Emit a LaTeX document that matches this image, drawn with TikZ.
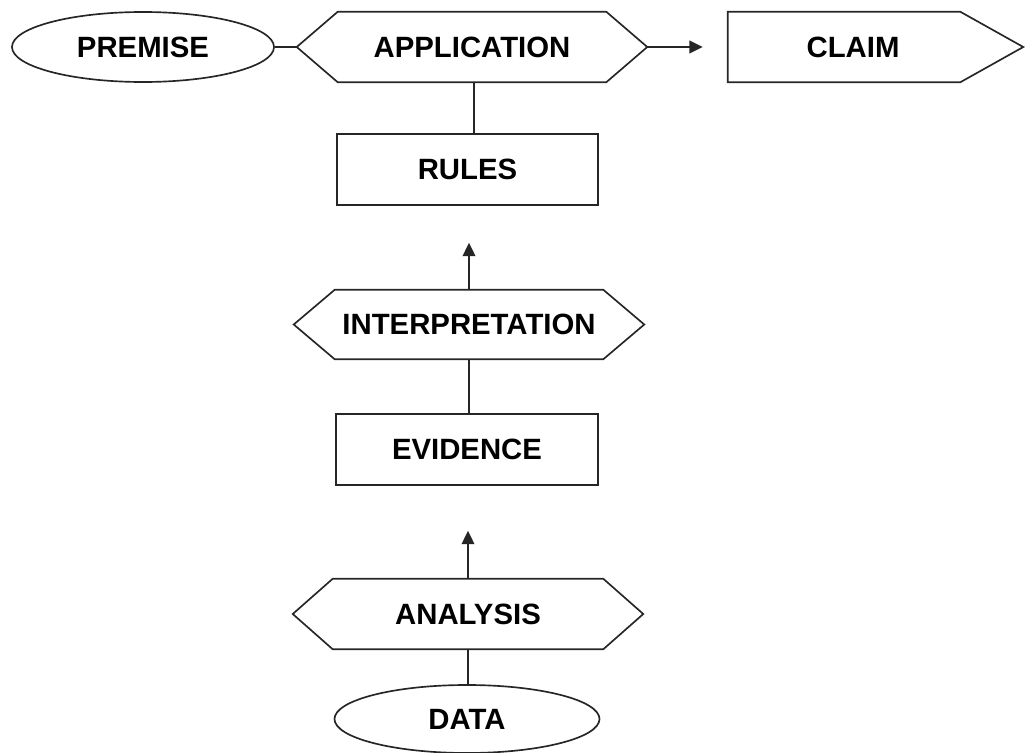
\documentclass[tikz,border=0pt]{standalone}
\usepackage{fontspec}
\setmainfont{Liberation Sans}
\usetikzlibrary{shapes.geometric,arrows.meta}
\def\pxu{0.75pt}
\tikzset{
  every node/.style={font=\fontsize{22}{26}\selectfont\bfseries, inner sep=0pt},
  line/.style={line width=1.25pt, draw=black!85},
  conn/.style={line, -{Triangle[length=10pt,width=9.5pt]}},
  ovalbox/.style={ellipse, line, draw, fill=white},
  rectbox/.style={rectangle, line, draw, fill=white},
  plainbox/.style={rectangle, draw=none},
}
\newcommand{\hexaoutline}[2]{%
  \draw[line] (#1.west) -- ([xshift=#2]#1.north west) -- ([xshift=-#2]#1.north east)
    -- (#1.east) -- ([xshift=-#2]#1.south east) -- ([xshift=#2]#1.south west) -- cycle;}
\begin{document}
\begin{tikzpicture}[x=0.75pt,y=-0.75pt]
\useasboundingbox (0,0) rectangle (1025,753);
% nodes
\node[ovalbox, minimum width=262*\pxu, minimum height=70*\pxu] (premise) at (143,47) {PREMISE};
\node[plainbox, minimum width=350*\pxu, minimum height=70*\pxu] (application) at (472,47) {APPLICATION};
\node[plainbox, minimum width=232*\pxu, minimum height=70*\pxu] (claim) at (844,47) {\hspace*{13.5pt}CLAIM};
\node[rectbox, minimum width=261*\pxu, minimum height=71*\pxu] (rules) at (467.5,169.5) {RULES};
\node[plainbox, minimum width=350*\pxu, minimum height=69*\pxu] (interpretation) at (469,324.5) {INTERPRETATION};
\node[rectbox, minimum width=262*\pxu, minimum height=71*\pxu] (evidence) at (467,449.5) {EVIDENCE};
\node[plainbox, minimum width=350*\pxu, minimum height=70*\pxu] (analysis) at (468,614) {ANALYSIS};
\node[ovalbox, minimum width=265*\pxu, minimum height=68*\pxu] (data) at (467,719) {DATA};
% outlines
\hexaoutline{application}{41*\pxu}
\hexaoutline{interpretation}{41*\pxu}
\hexaoutline{analysis}{40*\pxu}
\draw[line] (claim.north west) -- (claim.north east) -- ([xshift=63*\pxu]claim.east)
  -- (claim.south east) -- (claim.south west) -- cycle;
% connectors
\draw[line] (premise.east) -- (application.west);
\draw[conn, shorten >=25*\pxu] (application.east) -- (claim.west);
\draw[line] ([xshift=2*\pxu]application.south) -- ([xshift=2*\pxu]application.south |- rules.north);
\draw[conn, shorten >=37*\pxu] (interpretation.north) -- (interpretation.north |- rules.south);
\draw[line] (interpretation.south) -- (interpretation.south |- evidence.north);
\draw[conn, shorten >=45*\pxu] (analysis.north) -- (analysis.north |- evidence.south);
\draw[line] (analysis.south) -- (analysis.south |- data.north);
\end{tikzpicture}
\end{document}
